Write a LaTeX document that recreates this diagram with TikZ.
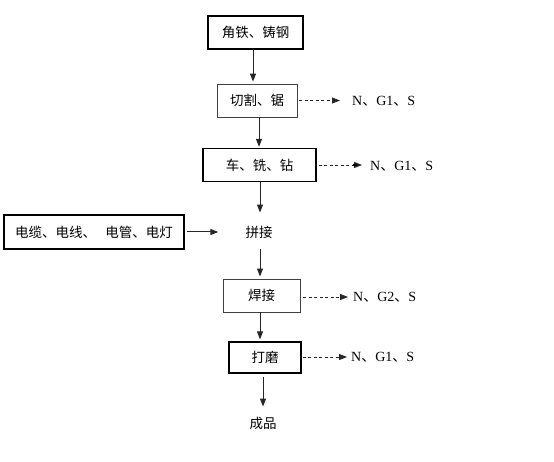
\documentclass[tikz,border=0pt]{standalone}
\usepackage{fontspec}
\setmainfont{Liberation Serif}
\newfontfamily\cjk{Noto Sans CJK SC}
\usetikzlibrary{arrows.meta}
\tikzset{
  thickbox/.style={draw=black, line width=1.3pt, minimum height=33pt, inner sep=0pt, font=\cjk\fontsize{13.5}{15}\selectfont},
  thinbox/.style={draw=black!75, line width=0.9pt, minimum height=33pt, inner sep=0pt, font=\cjk\fontsize{13.5}{15}\selectfont},
  plain/.style={inner sep=0pt, font=\cjk\fontsize{13.5}{15}\selectfont},
  emis/.style={inner sep=0pt, anchor=west, font=\fontsize{14}{16}\selectfont},
  arr/.style={draw=black!85, line width=1pt, -{Triangle[length=8pt,width=6pt]}},
  darr/.style={draw=black!85, line width=0.8pt, dash pattern=on 3pt off 2.5pt, -{Triangle[length=8pt,width=6pt]}},
}
\begin{document}
\begin{tikzpicture}[x=1pt,y=-1pt]
\useasboundingbox[fill=white] (0,0) rectangle (554,462);
\node[thickbox, minimum width=95pt] (b1) at (255.5,32.5) {角铁、铸钢};
\node[thinbox, minimum width=80pt] (b2) at (257,100.5) {切割、锯};
\node[thickbox, minimum width=113pt] (b3) at (259.5,165) {车、铣、钻};
\node[thickbox, minimum width=180pt, minimum height=34pt] (b4) at (94,232) {电缆、电线、\hspace{0.7em}电管、电灯};
\node[plain] (pj) at (259,232) {拼接};
\node[thinbox, minimum width=77pt] (b5) at (261.5,295.5) {焊接};
\node[thickbox, minimum width=72pt, minimum height=31pt] (b6) at (265,357.5) {打磨};
\node[plain] (cp) at (263,423) {成品};

\node[emis] (e2) at (352,101) {N{\cjk 、}G1{\cjk 、}S};
\node[emis] (e3) at (370,166) {N{\cjk 、}G1{\cjk 、}S};
\node[emis] (e5) at (353,297) {N{\cjk 、}G2{\cjk 、}S};
\node[emis] (e6) at (351,357) {N{\cjk 、}G1{\cjk 、}S};

\coordinate (x1) at (253,0);
\coordinate (x2) at (259,0);
\coordinate (x3) at (260,0);
\coordinate (x6) at (263,0);

\draw[arr] (b1.south -| x1) -- ([yshift=2pt]b2.north -| x1);
\draw[arr] (b2.south -| x2) -- ([yshift=1pt]b3.north -| x2);
\draw[arr] (b3.south -| x3) -- ([yshift=13pt]pj.north -| x3);
\draw[arr] (b4.east) ++(2pt,0) -- ([xshift=-27pt]pj.west);
\draw[arr] ([yshift=-11pt]pj.south -| x3) -- ([yshift=2pt]b5.north -| x3);
\draw[arr] (b5.south -| x3) -- ([yshift=2pt]b6.north -| x3);
\draw[arr] ([yshift=-3pt]b6.south -| x6) -- ([yshift=10pt]cp.north -| x6);

\draw[darr] ([xshift=2pt]b2.east) -- ([xshift=-12pt]e2.west |- b2.east);
\draw[darr] ([xshift=2pt]b3.east) -- ([xshift=-8pt]e3.west |- b3.east);
\draw[line width=2pt, black] ([xshift=-17pt]e3.west |- b3.east) -- ([xshift=-13pt]e3.west |- b3.east);
\draw[darr] ([xshift=3pt]b5.east |- e5.west) -- ([xshift=-5pt]e5.west);
\draw[darr] ([xshift=1pt]b6.east |- e6.west) -- ([xshift=-4pt]e6.west);
\end{tikzpicture}
\end{document}
